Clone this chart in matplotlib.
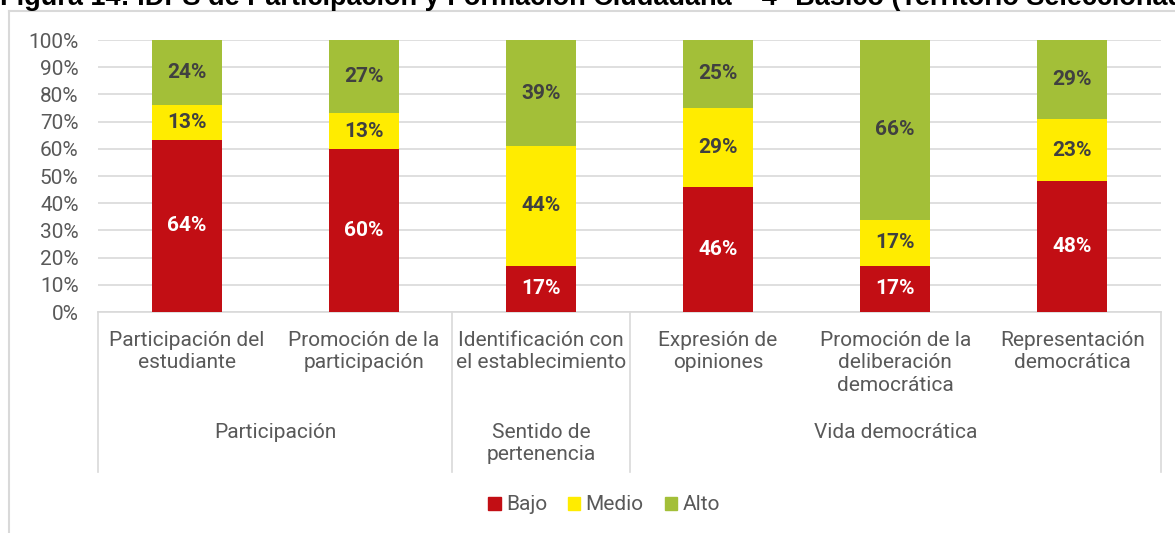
import numpy as np
import matplotlib
matplotlib.use("Agg")
import matplotlib.pyplot as plt
import matplotlib.transforms as mtransforms
from matplotlib.lines import Line2D
from matplotlib.patches import Patch

# Data
subcats = ["Participación del\nestudiante", "Promoción de la\nparticipación",
           "Identificación con\nel establecimiento", "Expresión de\nopiniones",
           "Promoción de la\ndeliberación\ndemocrática", "Representación\ndemocrática"]
groups = ["Participación", "Sentido de\npertenencia", "Vida democrática"]
group_sizes = [2, 1, 3]
bajo = [64, 60, 17, 46, 17, 48]
medio = [13, 13, 44, 29, 17, 23]
alto = [24, 27, 39, 25, 66, 29]
series = ["Bajo", "Medio", "Alto"]
colors = ["#C20E14", "#FFEC00", "#A3BF38"]
label_colors = ["white", "#404040", "#404040"]

plt.rcParams['font.family'] = ['Roboto', 'DejaVu Sans']
gray_txt = "#595959"
line_col = "#D9D9D9"

fig = plt.figure(figsize=(11.75, 5.33), dpi=100)
W, H = 1175, 533
ax = fig.add_axes([98 / W, 1 - 312 / H, (1161 - 98) / W, (312 - 40) / H])

data = np.array([bajo, medio, alto], dtype=float)
pct = data / data.sum(axis=0) * 100
x = np.arange(len(subcats))
bottom = np.zeros(len(subcats))
for i in range(3):
    ax.bar(x, pct[i], bottom=bottom, width=0.395, color=colors[i], zorder=3)
    for j in range(len(subcats)):
        ax.text(x[j], bottom[j] + pct[i][j] / 2, f"{data[i][j]:.0f}%", ha='center', va='center',
                color=label_colors[i], fontsize=15, fontweight='bold', zorder=4)
    bottom += pct[i]

ax.set_xlim(-0.5, len(subcats) - 0.5)
ax.set_ylim(0, 100)
ax.set_yticks(np.arange(0, 101, 10))
ax.set_yticklabels([f"{v}%" for v in range(0, 101, 10)])
ax.tick_params(axis='y', length=0, labelsize=15, labelcolor=gray_txt, pad=14)
ax.set_xticks([])
ax.grid(axis='y', color=line_col, linewidth=1.2, zorder=0)
for s in ["top", "right", "left"]:
    ax.spines[s].set_visible(False)
ax.spines["bottom"].set_color(line_col)
ax.spines["bottom"].set_linewidth(1.2)

# multi-level category axis
trans = mtransforms.blended_transform_factory(ax.transData, fig.transFigure)
for j, lab in enumerate(subcats):
    ax.text(x[j], 1 - 331 / H, lab, transform=trans, ha='center', va='top',
            fontsize=15, color=gray_txt, linespacing=1.22)
edges = np.concatenate([[0], np.cumsum(group_sizes)]) - 0.5
for k, g in enumerate(groups):
    ax.text((edges[k] + edges[k + 1]) / 2, 1 - 423 / H, g, transform=trans, ha='center',
            va='top', fontsize=15, color=gray_txt, linespacing=1.22)
for e in edges:
    fig.add_artist(Line2D([e, e], [1 - 312 / H, 1 - 472 / H], transform=trans,
                          color=line_col, linewidth=1.2))

# legend
handles = [Patch(color=c, label=s) for c, s in zip(colors, series)]
fig.legend(handles=handles, loc='center', bbox_to_anchor=(604 / W, 1 - 505 / H), ncol=3,
           frameon=False, fontsize=15, labelcolor=gray_txt, handlelength=0.6,
           handleheight=0.6, handletextpad=0.25, columnspacing=1.0)

# chart frame
fig.add_artist(Line2D([9 / W, 9 / W], [0, 1 - 11 / H], color=line_col, linewidth=1.5))
fig.add_artist(Line2D([9 / W, 1], [1 - 11 / H, 1 - 11 / H], color=line_col, linewidth=1.5))

# cut-off caption above the chart
fig.text(0, 1 - 5 / H, "Figura 14: IDPS de Participación y Formación Ciudadana – 4° Básico (Territorio Seleccionado)",
         ha='left', va='baseline', fontsize=19.5, fontweight='bold', color='black',
         family=['Liberation Sans', 'DejaVu Sans'])

fig.savefig("out.png", dpi=100)
